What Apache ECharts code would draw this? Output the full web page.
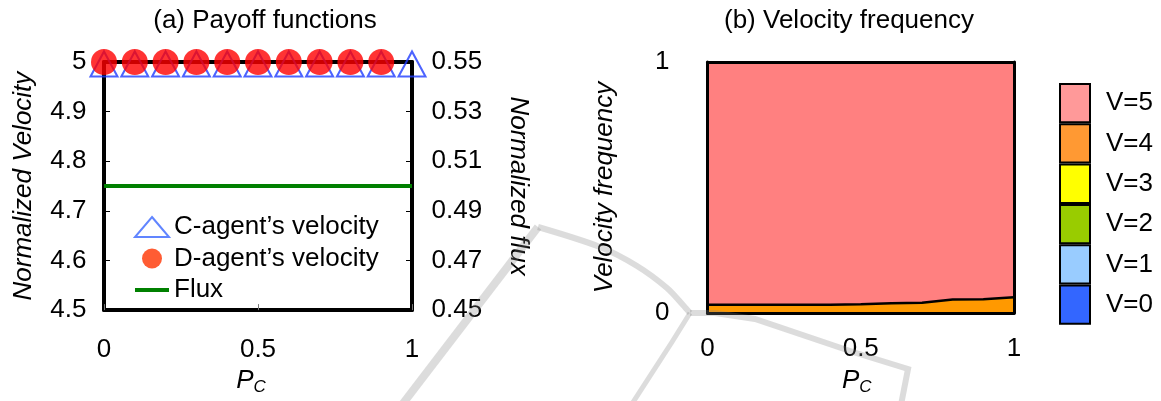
<!DOCTYPE html>
<html>
<head>
<meta charset="utf-8">
<script src="https://cdn.jsdelivr.net/npm/echarts@6/dist/echarts.min.js"></script>
<style>
  html, body { margin: 0; padding: 0; background: #ffffff; }
  #chart { width: 1161px; height: 401px; }
</style>
</head>
<body>
<div id="chart"></div>
<script>
// Fraction of cooperators P_C on both panels
const pc = [0, 0.1, 0.2, 0.3, 0.4, 0.5, 0.6, 0.7, 0.8, 0.9, 1];

// (a) payoff functions
const cVelocity = [5, 5, 5, 5, 5, 5, 5, 5, 5, 5, 5];
const dVelocity = [5, 5, 5, 5, 5, 5, 5, 5, 5, 5];   // no D-agents left at P_C = 1
const flux = [0.5, 0.5, 0.5, 0.5, 0.5, 0.5, 0.5, 0.5, 0.5, 0.5, 0.5];

// (b) velocity frequency, one list per velocity class
const freqV0 = [0, 0, 0, 0, 0, 0, 0, 0, 0, 0, 0];
const freqV1 = [0, 0, 0, 0, 0, 0, 0, 0, 0, 0, 0];
const freqV2 = [0, 0, 0, 0, 0, 0, 0, 0, 0, 0, 0];
const freqV3 = [0, 0, 0, 0, 0, 0, 0, 0, 0, 0, 0];
const freqV4 = [0.033, 0.033, 0.033, 0.033, 0.033, 0.035, 0.039, 0.041, 0.054, 0.055, 0.063];
const freqV5 = [0.967, 0.967, 0.967, 0.967, 0.967, 0.965, 0.961, 0.959, 0.946, 0.945, 0.937];

const velocityClasses = ['V=0', 'V=1', 'V=2', 'V=3', 'V=4', 'V=5'];
const freqSeries = [freqV0, freqV1, freqV2, freqV3, freqV4, freqV5];
const areaColors = ['#3366ff', '#99ccff', '#99cc00', '#ffff00', '#ff9900', '#ff8080'];
const keyColors = ['#3366ff', '#99ccff', '#99cc00', '#ffff00', '#ff9933', '#ff9999'];

// Axis ranges
const velocityRange = { min: 4.5, max: 5, step: 0.1 };
const fluxRange = { min: 0.45, max: 0.55, step: 0.02 };

const FONT = 'Liberation Sans, Arial, sans-serif';
const pairs = (ys) => ys.map((y, i) => [pc[i], y]);

const pcRich = {
  p: { fontSize: 26, fontStyle: 'italic', fontFamily: FONT, color: '#000', lineHeight: 30, verticalAlign: 'middle' },
  s: { fontSize: 17, fontStyle: 'italic', fontFamily: FONT, color: '#000', lineHeight: 30, verticalAlign: 'bottom' }
};

const labelStyle = { fontSize: 26, color: '#000', fontFamily: FONT };
const nameStyle = { fontSize: 26, color: '#000', fontFamily: FONT, fontStyle: 'italic' };
const frameLine = (w) => ({ show: true, onZero: false, lineStyle: { color: '#000', width: w } });

const chart = echarts.init(document.getElementById('chart'), null, { renderer: 'canvas' });

const option = {
  animation: false,
  backgroundColor: '#ffffff',
  textStyle: { fontFamily: FONT },
  title: [
    { text: '(a) Payoff functions', left: 265, top: 8, padding: 0, textAlign: 'center',
      textStyle: { fontSize: 26, fontWeight: 'normal', color: '#000', fontFamily: FONT } },
    { text: '(b) Velocity frequency', left: 849, top: 8, padding: 0, textAlign: 'center',
      textStyle: { fontSize: 26, fontWeight: 'normal', color: '#000', fontFamily: FONT } }
  ],
  grid: [
    { left: 104, top: 62, width: 308, height: 253 },
    { left: 707.5, top: 62, width: 306.5, height: 253 }
  ],
  legend: [
    {
      orient: 'vertical', left: 134, top: 214, padding: 0,
      itemWidth: 34, itemHeight: 20, itemGap: 5.5,
      symbolKeepAspect: true,
      selectedMode: false,
      textStyle: { fontSize: 26, color: '#000', fontFamily: FONT, lineHeight: 26 },
      data: [
        { name: 'C-agent’s velocity', icon: 'triangle',
          itemStyle: { color: 'rgba(0,0,0,0)', borderColor: '#3a66ff', borderWidth: 2 } },
        { name: 'D-agent’s velocity', icon: 'circle', itemStyle: { color: '#ff3300' } },
        { name: 'Flux', icon: 'path://M0,0 H34 V4 H0 Z', itemStyle: { color: '#008000' } }
      ]
    },
    {
      orient: 'vertical', left: 1059, top: 83, padding: 0,
      itemWidth: 30, itemHeight: 38.3, itemGap: 0,
      selectedMode: false,
      textStyle: { fontSize: 26, color: '#000', fontFamily: FONT, padding: [0, 0, 0, 11] },
      data: velocityClasses.slice().reverse().map((name) => ({
        name: name,
        icon: 'rect',
        itemStyle: { color: keyColors[velocityClasses.indexOf(name)], borderColor: '#000', borderWidth: 2 }
      }))
    }
  ],
  xAxis: [
    {
      gridIndex: 0, type: 'value', position: 'bottom', min: 0, max: 1, interval: 0.5,
      name: '{p|P}{s|C}', nameLocation: 'middle', nameGap: 54,
      nameTextStyle: { padding: [0, 14, 0, 0], rich: pcRich },
      axisLine: frameLine(4),
      axisTick: { inside: true, length: 6, lineStyle: { color: '#777', width: 1 } },
      axisLabel: Object.assign({ margin: 27 }, labelStyle),
      splitLine: { show: false }
    },
    {
      gridIndex: 0, type: 'value', position: 'top', min: 0, max: 1,
      axisLine: frameLine(4),
      axisTick: { show: false }, axisLabel: { show: false }, splitLine: { show: false }
    },
    {
      gridIndex: 1, type: 'category', position: 'bottom', data: pc.map(String), boundaryGap: false, z: 5,
      name: '{p|P}{s|C}', nameLocation: 'middle', nameGap: 53,
      nameTextStyle: { padding: [0, 8, 0, 0], rich: pcRich },
      axisLine: frameLine(3),
      axisTick: { show: false },
      axisLabel: Object.assign({ margin: 23, interval: 4 }, labelStyle),
      splitLine: { show: false }
    },
    {
      gridIndex: 1, type: 'category', position: 'top', data: pc.map(String), boundaryGap: false, z: 5,
      axisLine: frameLine(3),
      axisTick: { show: false }, axisLabel: { show: false }, splitLine: { show: false }
    }
  ],
  yAxis: [
    {
      gridIndex: 0, type: 'value', position: 'left',
      min: velocityRange.min, max: velocityRange.max, interval: velocityRange.step,
      name: 'Normalized Velocity', nameLocation: 'middle', nameGap: 67, nameTextStyle: nameStyle,
      axisLine: frameLine(4),
      axisTick: { show: true, inside: true, length: 6, lineStyle: { color: '#000', width: 1 } },
      axisLabel: Object.assign({ margin: 17.5 }, labelStyle),
      splitLine: { show: false }
    },
    {
      gridIndex: 0, type: 'value', position: 'right',
      min: fluxRange.min, max: fluxRange.max, interval: fluxRange.step,
      name: 'Normalized flux', nameLocation: 'middle', nameGap: 93, nameRotate: -90, nameTextStyle: nameStyle,
      axisLine: frameLine(4),
      axisTick: { show: true, inside: true, length: 6, lineStyle: { color: '#000', width: 1 } },
      axisLabel: Object.assign({ margin: 19.5, formatter: (v) => v.toFixed(2) }, labelStyle),
      splitLine: { show: false }
    },
    {
      gridIndex: 1, type: 'value', position: 'left', min: 0, max: 1, interval: 1, z: 5,
      name: 'Velocity frequency', nameLocation: 'middle', nameGap: 90, nameTextStyle: nameStyle,
      axisLine: frameLine(3),
      axisTick: { show: false },
      axisLabel: Object.assign({ margin: 38 }, labelStyle),
      splitLine: { show: false }
    },
    {
      gridIndex: 1, type: 'value', position: 'right', min: 0, max: 1, z: 5,
      axisLine: frameLine(3),
      axisTick: { show: false }, axisLabel: { show: false }, splitLine: { show: false }
    }
  ],
  series: [
    {
      name: 'C-agent’s velocity', type: 'scatter', xAxisIndex: 0, yAxisIndex: 0,
      data: pairs(cVelocity), symbol: 'triangle', symbolSize: [27, 25], symbolOffset: [0, 2],
      itemStyle: { color: 'rgba(0,0,0,0)', borderColor: '#1f3cff', borderWidth: 2 }, z: 3
    },
    {
      name: 'D-agent’s velocity', type: 'scatter', xAxisIndex: 0, yAxisIndex: 0,
      data: pairs(dVelocity), symbol: 'circle', symbolSize: 26,
      itemStyle: { color: '#ff0000' }, z: 4
    },
    {
      name: 'Flux', type: 'line', xAxisIndex: 0, yAxisIndex: 1,
      data: pairs(flux), symbol: 'none', showSymbol: false,
      lineStyle: { color: '#008000', width: 4 }, itemStyle: { color: '#008000' }, z: 2
    }
  ].concat(velocityClasses.map((name, k) => ({
    name: name, type: 'line', xAxisIndex: 2, yAxisIndex: 2, stack: 'freq',
    data: freqSeries[k], symbol: 'none', showSymbol: false,
    lineStyle: { color: '#000', width: name === 'V=4' ? 2.5 : 0 },
    itemStyle: { color: keyColors[k] },
    areaStyle: { color: areaColors[k], opacity: 1 }
  }))),
  // light grey emblem strokes running behind the panels
  graphic: [
    { type: 'polyline', z: 100, silent: true,
      shape: { points: [[398, 410], [538, 227]] },
      style: { stroke: 'rgba(128,128,128,0.28)', lineWidth: 8, fill: null } },
    { type: 'polyline', z: 100, silent: true,
      shape: { points: [[538, 227], [600, 247], [637, 266], [667, 288], [683, 305], [690, 313]], smooth: 0.3 },
      style: { stroke: 'rgba(128,128,128,0.28)', lineWidth: 6, fill: null } },
    { type: 'polyline', z: 100, silent: true,
      shape: { points: [[690, 313], [715, 313], [755, 319], [853, 352], [908, 369], [900, 410]] },
      style: { stroke: 'rgba(128,128,128,0.28)', lineWidth: 6, fill: null } },
    { type: 'polyline', z: 100, silent: true,
      shape: { points: [[690, 313], [672, 342], [628, 410]] },
      style: { stroke: 'rgba(128,128,128,0.28)', lineWidth: 5, fill: null } }
  ]
};

chart.setOption(option);
</script>
</body>
</html>
